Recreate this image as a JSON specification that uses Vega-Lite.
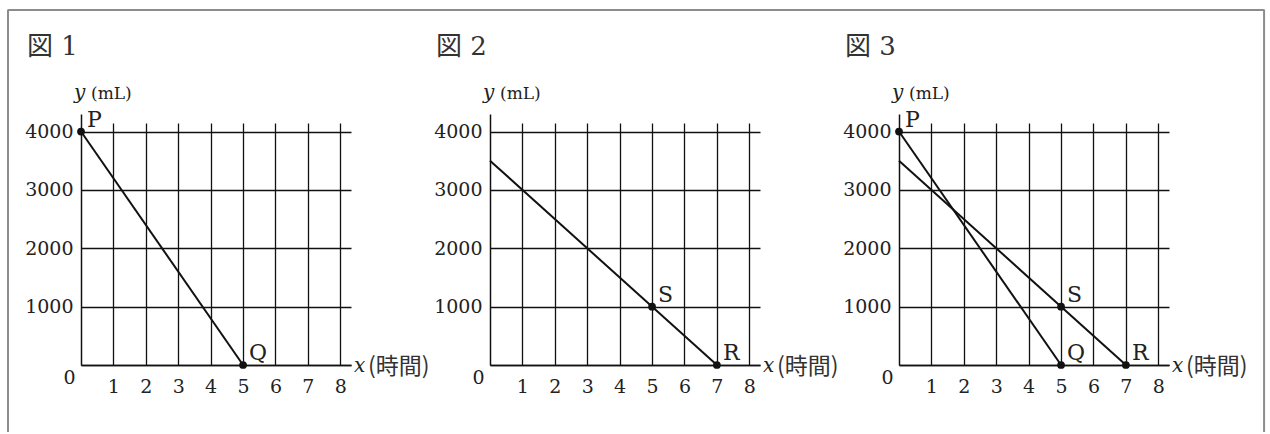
{
  "$schema": "https://vega.github.io/schema/vega-lite/v6.json",
  "background": "white",
  "autosize": {"type": "pad"},
  "padding": {"left": 7, "top": 8, "right": 3, "bottom": 0},
  "bounds": "flush",
  "spacing": 139,
  "config": {
    "view": {"stroke": null},
    "axis": {
      "domainColor": "#111111",
      "domainWidth": 1.5,
      "labelFont": "DejaVu Serif",
      "labelFontSize": 19,
      "labelColor": "#222222",
      "labelFlush": false,
      "labelOverlap": false,
      "format": "d"
    },
    "axisX": {"ticks": true, "tickSize": -242, "tickWidth": 1.3, "tickColor": "#111111", "grid": false},
    "axisY": {"ticks": false, "grid": true, "gridColor": "#111111", "gridWidth": 1.3},
    "text": {"font": "DejaVu Serif", "color": "#222222", "align": "left", "baseline": "alphabetic"}
  },
  "datasets": {
    "frame": [
      {"x": -2.252, "y": -1148, "k": 0},
      {"x": -2.252, "y": 6082, "k": 1},
      {"x": 36.5, "y": 6082, "k": 2},
      {"x": 36.5, "y": -1148, "k": 3}
    ],
    "lines": [
      {"fig": 1, "seg": "PQ", "x": 0, "y": 4000},
      {"fig": 1, "seg": "PQ", "x": 5, "y": 0},
      {"fig": 2, "seg": "SR", "x": 0, "y": 3500},
      {"fig": 2, "seg": "SR", "x": 7, "y": 0},
      {"fig": 3, "seg": "PQ", "x": 0, "y": 4000},
      {"fig": 3, "seg": "PQ", "x": 5, "y": 0},
      {"fig": 3, "seg": "SR", "x": 0, "y": 3500},
      {"fig": 3, "seg": "SR", "x": 7, "y": 0}
    ],
    "points": [
      {"fig": 1, "name": "P", "x": 0, "y": 4000},
      {"fig": 1, "name": "Q", "x": 5, "y": 0},
      {"fig": 2, "name": "S", "x": 5, "y": 1000},
      {"fig": 2, "name": "R", "x": 7, "y": 0},
      {"fig": 3, "name": "P", "x": 0, "y": 4000},
      {"fig": 3, "name": "Q", "x": 5, "y": 0},
      {"fig": 3, "name": "S", "x": 5, "y": 1000},
      {"fig": 3, "name": "R", "x": 7, "y": 0}
    ],
    "notes": [
      {"fig": 1, "kind": "title", "label": "図 1", "x": 0, "y": 4300},
      {"fig": 2, "kind": "title", "label": "図 2", "x": 0, "y": 4300},
      {"fig": 3, "kind": "title", "label": "図 3", "x": 0, "y": 4300},
      {"fig": 0, "kind": "yvar", "label": "y", "x": 0, "y": 4300},
      {"fig": 0, "kind": "yunit", "label": "(mL)", "x": 0, "y": 4300},
      {"fig": 0, "kind": "xvar", "label": "x", "x": 8.33, "y": 0},
      {"fig": 0, "kind": "xunit", "label": "(時間)", "x": 8.33, "y": 0}
    ]
  },
  "hconcat": [
    {
      "width": 270,
      "height": 251,
      "encoding": {
        "x": {"field": "x", "type": "quantitative", "scale": {"domain": [0, 8.33], "nice": false, "zero": false},
          "axis": {"values": [1, 2, 3, 4, 5, 6, 7, 8], "title": null, "labelPadding": 254}},
        "y": {"field": "y", "type": "quantitative", "scale": {"domain": [0, 4300], "nice": false, "zero": false},
          "axis": {"values": [0, 1000, 2000, 3000, 4000], "title": null,
            "labelPadding": {"condition": {"test": "datum.value === 0", "value": 6}, "value": 8},
            "labelOffset": {"condition": {"test": "datum.value === 0", "value": 12.5}, "value": 0}}}
      },
      "layer": [
        {"data": {"name": "frame"}, "mark": {"type": "line", "stroke": "#8c8c8c", "strokeWidth": 2, "strokeJoin": "bevel"}, "encoding": {"order": {"field": "k"}}},
        {"data": {"name": "lines"}, "transform": [{"filter": "datum.fig === 1"}], "mark": {"type": "line", "stroke": "#111111", "strokeWidth": 2}, "encoding": {"detail": {"field": "seg"}}},
        {"data": {"name": "points"}, "transform": [{"filter": "datum.fig === 1"}], "mark": {"type": "circle", "size": 60, "color": "#111111", "opacity": 1}},
        {"data": {"name": "points"}, "transform": [{"filter": "datum.fig === 1"}], "mark": {"type": "text", "fontSize": 22, "dx": 6, "dy": -5}, "encoding": {"text": {"field": "name"}}},
        {"data": {"name": "notes"}, "transform": [{"filter": "datum.kind === 'title' && datum.fig === 1"}], "mark": {"type": "text", "font": "DejaVu Serif, Noto Sans CJK JP", "fontSize": 26, "color": "#333333", "dx": -54, "dy": -59}, "encoding": {"text": {"field": "label"}}},
        {"data": {"name": "notes"}, "transform": [{"filter": "datum.kind === 'yvar'"}], "mark": {"type": "text", "fontStyle": "italic", "fontSize": 20, "dx": -7, "dy": -15}, "encoding": {"text": {"field": "label"}}},
        {"data": {"name": "notes"}, "transform": [{"filter": "datum.kind === 'yunit'"}], "mark": {"type": "text", "fontSize": 17, "dx": 10, "dy": -15}, "encoding": {"text": {"field": "label"}}},
        {"data": {"name": "notes"}, "transform": [{"filter": "datum.kind === 'xvar'"}], "mark": {"type": "text", "fontStyle": "italic", "fontSize": 20, "dx": 3, "dy": 7}, "encoding": {"text": {"field": "label"}}},
        {"data": {"name": "notes"}, "transform": [{"filter": "datum.kind === 'xunit'"}], "mark": {"type": "text", "font": "Noto Sans CJK JP", "fontSize": 23, "color": "#333333", "dx": 17, "dy": 9}, "encoding": {"text": {"field": "label"}}}
      ]
    },
    {
      "width": 270,
      "height": 251,
      "encoding": {
        "x": {"field": "x", "type": "quantitative", "scale": {"domain": [0, 8.33], "nice": false, "zero": false},
          "axis": {"values": [1, 2, 3, 4, 5, 6, 7, 8], "title": null, "labelPadding": 254}},
        "y": {"field": "y", "type": "quantitative", "scale": {"domain": [0, 4300], "nice": false, "zero": false},
          "axis": {"values": [0, 1000, 2000, 3000, 4000], "title": null,
            "labelPadding": {"condition": {"test": "datum.value === 0", "value": 6}, "value": 8},
            "labelOffset": {"condition": {"test": "datum.value === 0", "value": 12.5}, "value": 0}}}
      },
      "layer": [
        {"data": {"name": "lines"}, "transform": [{"filter": "datum.fig === 2"}], "mark": {"type": "line", "stroke": "#111111", "strokeWidth": 2}, "encoding": {"detail": {"field": "seg"}}},
        {"data": {"name": "points"}, "transform": [{"filter": "datum.fig === 2"}], "mark": {"type": "circle", "size": 60, "color": "#111111", "opacity": 1}},
        {"data": {"name": "points"}, "transform": [{"filter": "datum.fig === 2"}], "mark": {"type": "text", "fontSize": 22, "dx": 6, "dy": -5}, "encoding": {"text": {"field": "name"}}},
        {"data": {"name": "notes"}, "transform": [{"filter": "datum.kind === 'title' && datum.fig === 2"}], "mark": {"type": "text", "font": "DejaVu Serif, Noto Sans CJK JP", "fontSize": 26, "color": "#333333", "dx": -54, "dy": -59}, "encoding": {"text": {"field": "label"}}},
        {"data": {"name": "notes"}, "transform": [{"filter": "datum.kind === 'yvar'"}], "mark": {"type": "text", "fontStyle": "italic", "fontSize": 20, "dx": -7, "dy": -15}, "encoding": {"text": {"field": "label"}}},
        {"data": {"name": "notes"}, "transform": [{"filter": "datum.kind === 'yunit'"}], "mark": {"type": "text", "fontSize": 17, "dx": 10, "dy": -15}, "encoding": {"text": {"field": "label"}}},
        {"data": {"name": "notes"}, "transform": [{"filter": "datum.kind === 'xvar'"}], "mark": {"type": "text", "fontStyle": "italic", "fontSize": 20, "dx": 3, "dy": 7}, "encoding": {"text": {"field": "label"}}},
        {"data": {"name": "notes"}, "transform": [{"filter": "datum.kind === 'xunit'"}], "mark": {"type": "text", "font": "Noto Sans CJK JP", "fontSize": 23, "color": "#333333", "dx": 17, "dy": 9}, "encoding": {"text": {"field": "label"}}}
      ]
    },
    {
      "width": 270,
      "height": 251,
      "encoding": {
        "x": {"field": "x", "type": "quantitative", "scale": {"domain": [0, 8.33], "nice": false, "zero": false},
          "axis": {"values": [1, 2, 3, 4, 5, 6, 7, 8], "title": null, "labelPadding": 254}},
        "y": {"field": "y", "type": "quantitative", "scale": {"domain": [0, 4300], "nice": false, "zero": false},
          "axis": {"values": [0, 1000, 2000, 3000, 4000], "title": null,
            "labelPadding": {"condition": {"test": "datum.value === 0", "value": 6}, "value": 8},
            "labelOffset": {"condition": {"test": "datum.value === 0", "value": 12.5}, "value": 0}}}
      },
      "layer": [
        {"data": {"name": "lines"}, "transform": [{"filter": "datum.fig === 3"}], "mark": {"type": "line", "stroke": "#111111", "strokeWidth": 2}, "encoding": {"detail": {"field": "seg"}}},
        {"data": {"name": "points"}, "transform": [{"filter": "datum.fig === 3"}], "mark": {"type": "circle", "size": 60, "color": "#111111", "opacity": 1}},
        {"data": {"name": "points"}, "transform": [{"filter": "datum.fig === 3"}], "mark": {"type": "text", "fontSize": 22, "dx": 6, "dy": -5}, "encoding": {"text": {"field": "name"}}},
        {"data": {"name": "notes"}, "transform": [{"filter": "datum.kind === 'title' && datum.fig === 3"}], "mark": {"type": "text", "font": "DejaVu Serif, Noto Sans CJK JP", "fontSize": 26, "color": "#333333", "dx": -54, "dy": -59}, "encoding": {"text": {"field": "label"}}},
        {"data": {"name": "notes"}, "transform": [{"filter": "datum.kind === 'yvar'"}], "mark": {"type": "text", "fontStyle": "italic", "fontSize": 20, "dx": -7, "dy": -15}, "encoding": {"text": {"field": "label"}}},
        {"data": {"name": "notes"}, "transform": [{"filter": "datum.kind === 'yunit'"}], "mark": {"type": "text", "fontSize": 17, "dx": 10, "dy": -15}, "encoding": {"text": {"field": "label"}}},
        {"data": {"name": "notes"}, "transform": [{"filter": "datum.kind === 'xvar'"}], "mark": {"type": "text", "fontStyle": "italic", "fontSize": 20, "dx": 3, "dy": 7}, "encoding": {"text": {"field": "label"}}},
        {"data": {"name": "notes"}, "transform": [{"filter": "datum.kind === 'xunit'"}], "mark": {"type": "text", "font": "Noto Sans CJK JP", "fontSize": 23, "color": "#333333", "dx": 17, "dy": 9}, "encoding": {"text": {"field": "label"}}}
      ]
    }
  ]
}
